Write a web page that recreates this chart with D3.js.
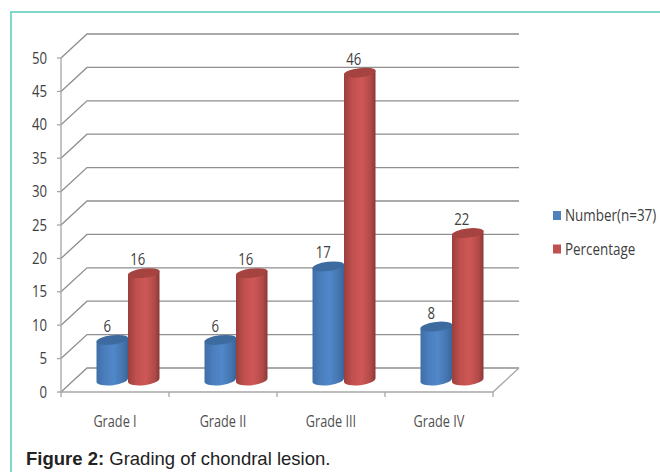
<!DOCTYPE html>
<html>
<head>
<meta charset="utf-8">
<script src="https://cdn.jsdelivr.net/npm/d3@7"></script>
<style>
html,body{margin:0;padding:0;background:#fff;}
svg{display:block;}
</style>
</head>
<body>
<svg id="chart" width="660" height="472"></svg>
<script>
const categories = ["Grade I", "Grade II", "Grade III", "Grade IV"];
const numberValues = [6, 6, 17, 8];
const percentageValues = [16, 16, 46, 22];
const yTicks = [0, 5, 10, 15, 20, 25, 30, 35, 40, 45, 50];
const seriesNames = ["Number(n=37)", "Percentage"];
const captionLead = "Figure 2:";
const captionRest = " Grading of chondral lesion.";

const svg = d3.select("#chart");
const labelFont = "'Open Sans',sans-serif";
const depthX = 26, depthY = 24;

const x = d3.scaleBand().domain(categories).range([61, 493]).padding(0);
const y = d3.scaleLinear().domain([0, 50]).range([392, 58]);
const barOffset = d3.scaleBand().domain([0, 1]).range([-31.5, 31.5]);

// Condensed label: the installed humanist face squeezed horizontally
function narrowText(parent, px, py, str, size, squeeze, anchor, fill) {
  return parent.append("text")
    .attr("transform", `translate(${px},${py}) scale(${squeeze},1)`)
    .attr("text-anchor", anchor).attr("font-family", labelFont)
    .attr("font-size", size).attr("fill", fill).text(str);
}

// Horizontal gradients shade the cylinders
const defs = svg.append("defs");
function shade(id, stops) {
  const g = defs.append("linearGradient").attr("id", id)
    .attr("x1", 0).attr("x2", 1).attr("y1", 0).attr("y2", 0);
  stops.forEach(([o, c]) => g.append("stop").attr("offset", o).attr("stop-color", c));
}
shade("blueBody", [[0, "#3f6fa8"], [0.3, "#4c80c0"], [0.55, "#5088ca"], [0.85, "#4474ae"], [1, "#3a6494"]]);
shade("redBody", [[0, "#9a3f3d"], [0.25, "#bf4f4d"], [0.55, "#cf5857"], [0.85, "#b04a48"], [1, "#8a3836"]]);

// Page frame
svg.append("path").attr("fill", "none").attr("stroke", "#7fd8c8").attr("stroke-width", 2)
  .attr("d", d3.line()([[11, 472], [11, 12], [660, 12]]));

// Gridlines: side wall and back wall
const grid = svg.append("g").attr("fill", "none").attr("stroke", "#8f8f8f").attr("stroke-width", 1.3);
grid.selectAll("path.grid").data(yTicks).join("path").attr("class", "grid")
  .attr("d", d => d3.line()([[61, y(d)], [61 + depthX, y(d) - depthY], [493 + depthX, y(d) - depthY]]));

// Floor front edge and value axis
const axisG = svg.append("g").attr("stroke", "#a6a6a6").attr("stroke-width", 1.3).attr("fill", "none");
axisG.append("path").attr("d", d3.line()([[61, y(50)], [61, y(0)], [493, y(0)], [493 + depthX, y(0) - depthY]]));
axisG.selectAll("path.ytick").data(yTicks).join("path").attr("class", "ytick")
  .attr("d", d => d3.line()([[57, y(d)], [61, y(d)]]));
const xEdges = categories.map(c => x(c)).concat([x.range()[1]]);
axisG.selectAll("path.xtick").data(xEdges).join("path").attr("class", "xtick")
  .attr("d", d => d3.line()([[d, y(0)], [d, y(0) + 5]]));

// Value axis labels
const yLabels = svg.append("g");
yTicks.forEach(t => narrowText(yLabels, 47, y(t) + 5.5, t, 15.5, 0.85, "end", "#404040"));

// Category labels
const xLabels = svg.append("g");
categories.forEach(c => narrowText(xLabels, x(c) + x.bandwidth() / 2, 427, c, 15.5, 0.82, "middle", "#505050"));

// One cylinder: body plus tilted top cap
function cylinder(parent, cx, value, gradient, capColor) {
  const w = barOffset.bandwidth(), rx = w / 2, ry = 4.6;
  const base = y(0) - depthY / 2, top = y(value) - depthY / 2;
  const tilt = 2;
  const left = cx - rx, right = cx + rx;
  parent.append("path").attr("fill", `url(#${gradient})`)
    .attr("d", `M${left},${top + tilt} L${left},${base + tilt} A${rx},${ry + 0.6} -7 0 0 ${right},${base - tilt} L${right},${top - tilt} Z`);
  parent.append("ellipse").attr("cx", cx).attr("cy", top).attr("rx", rx + 0.2).attr("ry", ry)
    .attr("transform", `rotate(-7 ${cx} ${top})`).attr("fill", capColor);
}

const bars = svg.append("g");
const barCenter = (c, s) => x(c) + x.bandwidth() / 2 + depthX / 2 + barOffset(s) + barOffset.bandwidth() / 2;
categories.forEach((c, i) => {
  cylinder(bars, barCenter(c, 0), numberValues[i], "blueBody", "#3d6b9f");
  cylinder(bars, barCenter(c, 1), percentageValues[i], "redBody", "#a54341");
});

// Value labels above the cylinders
const valueLabels = svg.append("g");
categories.forEach((c, i) => {
  [numberValues[i], percentageValues[i]].forEach((v, s) => {
    narrowText(valueLabels, barCenter(c, s) - 6 + (s === 0 ? 1 : 0), y(v) - depthY / 2 - 8, v, 15.5, 0.85, "middle", "#404040");
  });
});

// Legend
const legendColors = ["#4f81bd", "#c0504d"];
const legend = svg.append("g");
seriesNames.forEach((name, i) => {
  const ly = 216 + i * 33.5;
  legend.append("rect").attr("x", 553).attr("y", ly - 5).attr("width", 8).attr("height", 9).attr("fill", legendColors[i]);
  narrowText(legend, 565, ly + 5, name, 16, 0.84, "start", "#404040");
});

// Caption
const caption = svg.append("text").attr("x", 26).attr("y", 465)
  .attr("font-family", "'Liberation Sans',Arial,sans-serif").attr("font-size", 18.5).attr("fill", "#222");
caption.append("tspan").attr("font-weight", "bold").text(captionLead);
caption.append("tspan").text(captionRest);
</script>
</body>
</html>
